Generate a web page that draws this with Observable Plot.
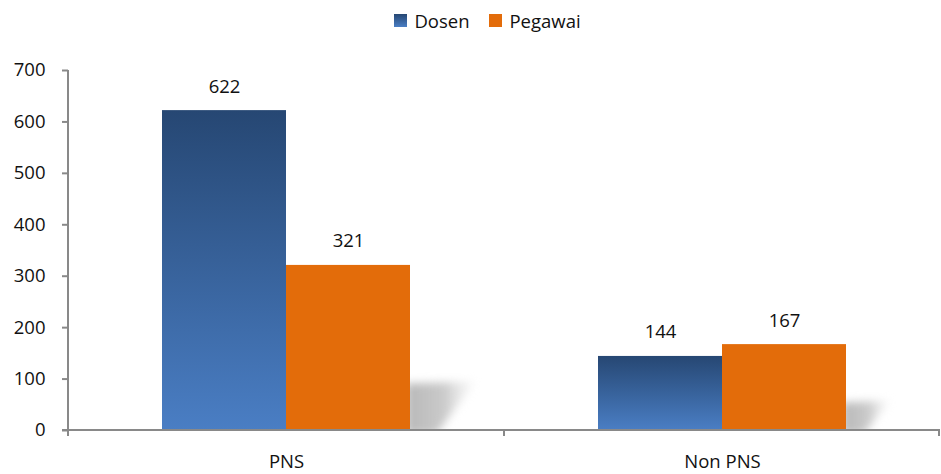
<!DOCTYPE html>
<html><head><meta charset="utf-8">
<script src="https://cdn.jsdelivr.net/npm/d3@7"></script>
<script src="https://cdn.jsdelivr.net/npm/@observablehq/plot@0.6"></script>
<style>
body{margin:0;background:#fff;font-family:"Open Sans",sans-serif;}
#legend{height:40px;display:flex;align-items:center;justify-content:center;padding-left:34px;font-size:18.5px;color:#111;box-sizing:border-box;}
.item{display:flex;align-items:center;margin:0 10px;}
.sw{width:13px;height:13px;display:inline-block;margin-right:7px;}
</style></head><body>
<div id="legend"></div><div id="chart"></div>
<script>
const categories = ["PNS", "Non PNS"];
const series = ["Dosen", "Pegawai"];
const dosen = [622, 144];
const pegawai = [321, 167];
const yTicks = [0, 100, 200, 300, 400, 500, 600, 700];
const orange = "#e36c0a";

const data = categories.flatMap((c, i) => [
  {category: c, series: "Dosen", value: dosen[i]},
  {category: c, series: "Pegawai", value: pegawai[i]}
]);

// legend
const leg = document.getElementById("legend");
series.forEach(s => {
  const it = document.createElement("div"); it.className = "item";
  const sw = document.createElement("span"); sw.className = "sw";
  sw.style.background = s === "Dosen" ? "linear-gradient(#264773,#4a7ec4)" : orange;
  it.appendChild(sw);
  it.appendChild(document.createTextNode(s));
  leg.appendChild(it);
});

const W = 941, H = 434, mL = 68, mR = 1, mT = 30, mB = 44;
const plot = Plot.plot({
  width: W, height: H, marginLeft: mL, marginRight: mR, marginTop: mT, marginBottom: mB,
  style: {fontFamily: "Open Sans", fontSize: "18.5px", color: "#111", background: "white", overflow: "visible"},
  facet: {data, x: "category"},
  fx: {domain: categories, padding: 0, label: null, axis: "bottom", tickSize: 0, tickPadding: 24},
  x: {domain: series, paddingInner: 0, paddingOuter: 0.748, axis: null},
  y: {domain: [0, 700], ticks: yTicks, tickSize: 6, tickPadding: 17, label: null},
  marks: [
    Plot.barY(data, {filter: d => d.series === "Dosen", x: "series", y: "value", fill: "url(#dosenGrad)"}),
    Plot.barY(data, {filter: d => d.series === "Pegawai", x: "series", y: "value", fill: orange}),
    Plot.text(data, {x: "series", y: "value", text: d => String(d.value), dy: -24, fontSize: 18.5, fill: "#111"})
  ]
});
document.getElementById("chart").appendChild(plot);

const svgNode = plot.tagName.toLowerCase() === "svg" ? plot : plot.querySelector("svg");
const svg = d3.select(svgNode);
const defs = svg.insert("defs", ":first-child");
const grad = defs.append("linearGradient").attr("id", "dosenGrad").attr("x1", 0).attr("y1", 0).attr("x2", 0).attr("y2", 1);
grad.append("stop").attr("offset", "0%").attr("stop-color", "#264773");
grad.append("stop").attr("offset", "100%").attr("stop-color", "#4a7ec4");
const sg = defs.append("linearGradient").attr("id", "shadowGrad").attr("x1", 0).attr("y1", 0).attr("x2", 1).attr("y2", 0);
sg.append("stop").attr("offset", "0%").attr("stop-color", "#b8b8b8").attr("stop-opacity", 1);
sg.append("stop").attr("offset", "55%").attr("stop-color", "#c4c4c4").attr("stop-opacity", 0.9);
sg.append("stop").attr("offset", "100%").attr("stop-color", "#e8e8e8").attr("stop-opacity", 0.2);

const ys = plot.scale("y");
const yS = d3.scaleLinear(ys.domain, ys.range);
const y0 = yS(0), yTop = yS(700);

// shadows behind orange bars
const orangeRects = Array.from(svgNode.querySelectorAll("rect")).filter(r => {
  const own = r.getAttribute("fill");
  const par = r.parentNode.getAttribute && r.parentNode.getAttribute("fill");
  return (own || par || "").toLowerCase() === orange;
});
orangeRects.forEach((rect, i) => {
  const x = +rect.getAttribute("x"), y = +rect.getAttribute("y"),
        w = +rect.getAttribute("width"), h = +rect.getAttribute("height");
  const xr = x + w, base = y + h;
  const sh = 0.24 * h + 7, ext = 0.27 * h + 21;
  const cid = "shclip" + i;
  defs.append("clipPath").attr("id", cid).attr("clipPathUnits", "userSpaceOnUse")
    .append("rect").attr("x", xr).attr("y", base - 200).attr("width", 300).attr("height", 200);
  const pts = [[xr - 4, base + 4], [xr - 4, base - sh], [xr + ext, base - sh - 2], [xr + ext * 0.4, base + 4]];
  const gEl = document.createElementNS("http://www.w3.org/2000/svg", "g");
  gEl.setAttribute("clip-path", `url(#${cid})`);
  const poly = document.createElementNS("http://www.w3.org/2000/svg", "polygon");
  poly.setAttribute("points", pts.map(p => p.join(",")).join(" "));
  poly.setAttribute("fill", "url(#shadowGrad)");
  poly.style.filter = "blur(4px)";
  gEl.appendChild(poly);
  rect.parentNode.insertBefore(gEl, rect);
});

// axis styling
const gray = "#898989";
svg.selectAll('[aria-label="y-axis tick"]').attr("stroke", gray).attr("stroke-width", 2);
svg.selectAll('[aria-label="y-axis tick"] path').attr("stroke", gray);
svg.selectAll('[aria-label="y-axis"] line').attr("stroke", gray).attr("stroke-width", 2);

const ax = svg.append("g").attr("stroke", gray).attr("stroke-width", 2);
ax.append("line").attr("x1", mL).attr("x2", mL).attr("y1", yTop).attr("y2", y0 + 6);
ax.append("line").attr("x1", mL - 6).attr("x2", W - mR).attr("y1", y0).attr("y2", y0);
const step = (W - mL - mR) / categories.length;
for (let i = 1; i <= categories.length; i++) {
  const xx = mL + i * step - (i === categories.length ? 1 : 0);
  ax.append("line").attr("x1", xx).attr("x2", xx).attr("y1", y0).attr("y2", y0 + 6);
}
</script>
</body></html>
